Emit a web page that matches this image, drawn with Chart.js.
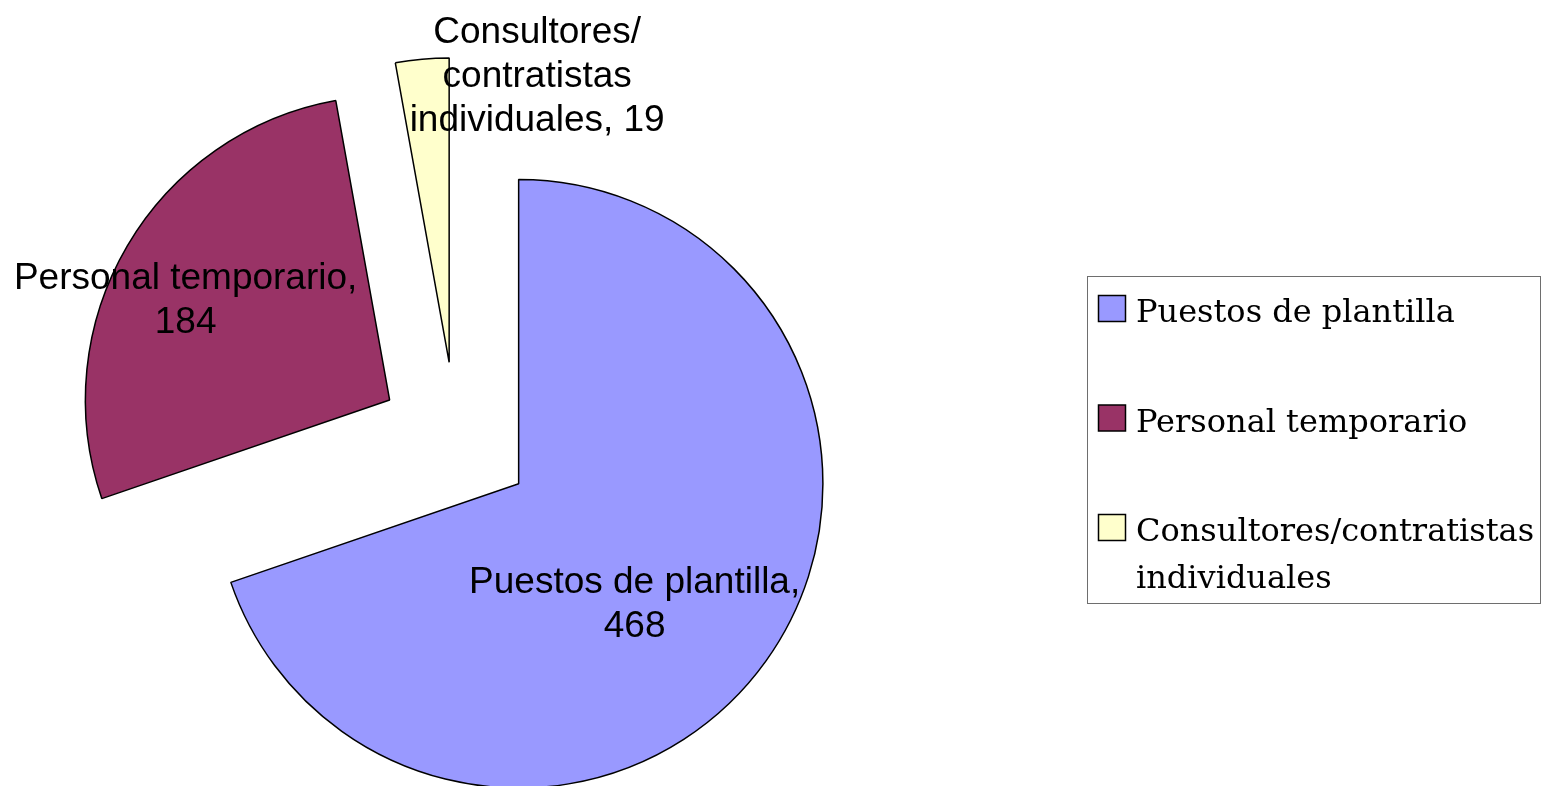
<!DOCTYPE html>
<html>
<head>
<meta charset="utf-8">
<script src="https://cdn.jsdelivr.net/npm/chart.js@4"></script>
<style>
  html, body { margin: 0; padding: 0; background: #fff; }
  #wrap { position: relative; width: 1542px; height: 786px; }
</style>
</head>
<body>
<div id="wrap"><canvas id="canvas1"></canvas></div>
<script>
const categories = ['Puestos de plantilla', 'Personal temporario', 'Consultores/contratistas individuales'];
const staffCounts = [468, 184, 19];
const sliceColors = ['#9999FF', '#993366', '#FFFFCC'];

// every slice is pulled out of the centre by this much (px)
const explode = 77;
// centre of each data label, relative to the tip of its slice
const labelShift = [[116, 128], [-204, -92], [88, -278]];

const labelFont = '37px "Liberation Sans", Arial, sans-serif';
const legendFont = '32px "DejaVu Serif", serif';

// greedy wrap, breaks after spaces (and after "/" when slash is true)
function wrapText(ctx, text, maxW, slash) {
  const tokens = text.match(slash ? /[^\s\/]+[\/\s]?/g : /\S+\s?/g);
  const lines = [];
  let line = '';
  tokens.forEach(t => {
    const test = line + t;
    if (line && ctx.measureText(test.trim()).width > maxW) {
      lines.push(line.trim());
      line = t;
    } else {
      line = test;
    }
  });
  if (line.trim()) lines.push(line.trim());
  return lines;
}

const explodePlugin = {
  id: 'explode',
  afterDatasetUpdate(chart, args) {
    args.meta.data.forEach(arc => {
      const mid = (arc.startAngle + arc.endAngle) / 2;
      arc.x += Math.cos(mid) * explode;
      arc.y += Math.sin(mid) * explode;
    });
  }
};

const labelPlugin = {
  id: 'sliceLabels',
  afterDatasetsDraw(chart) {
    const ctx = chart.ctx;
    const meta = chart.getDatasetMeta(0);
    ctx.save();
    ctx.font = labelFont;
    ctx.fillStyle = '#000';
    ctx.textAlign = 'center';
    ctx.textBaseline = 'alphabetic';
    const lh = 44;
    meta.data.forEach((arc, i) => {
      const text = chart.data.labels[i] + ', ' + chart.data.datasets[0].data[i];
      const lines = wrapText(ctx, text, 350, true);
      const cx = arc.x + labelShift[i][0];
      const cy = arc.y + labelShift[i][1];
      const y0 = cy - (lines.length - 1) * lh / 2 + 3;
      lines.forEach((l, k) => ctx.fillText(l, cx, y0 + k * lh));
    });
    ctx.restore();
  }
};

const legendPlugin = {
  id: 'boxLegend',
  afterDraw(chart) {
    const ctx = chart.ctx;
    const bx = 1087.5, by = 276.5, bw = 453, bh = 327;
    ctx.save();
    ctx.strokeStyle = '#6e6e6e';
    ctx.lineWidth = 1;
    ctx.strokeRect(bx, by, bw, bh);
    ctx.font = legendFont;
    ctx.textAlign = 'left';
    ctx.textBaseline = 'alphabetic';
    chart.data.labels.forEach((lab, i) => {
      const base = 322 + i * 109.5;
      ctx.fillStyle = sliceColors[i];
      ctx.fillRect(1098.5, base - 26.5, 27, 26);
      ctx.strokeStyle = '#000';
      ctx.lineWidth = 1.5;
      ctx.strokeRect(1098.5, base - 26.5, 27, 26);
      ctx.fillStyle = '#000';
      const lines = wrapText(ctx, lab, 404, false);
      lines.forEach((l, k) => ctx.fillText(l, 1136, base + k * 47));
    });
    ctx.restore();
  }
};

const canvas1 = document.getElementById('canvas1');
new Chart(canvas1, {
  type: 'pie',
  data: {
    labels: categories,
    datasets: [{
      data: staffCounts,
      backgroundColor: sliceColors,
      borderColor: '#000',
      borderWidth: 1.5,
      borderJoinStyle: 'bevel',
      hoverOffset: 0,
      clip: false,
    }]
  },
  options: {
    responsive: true,
    maintainAspectRatio: false,
    animation: false,
    layout: { padding: { left: 151, right: 781, top: 134, bottom: 42 } },
    plugins: {
      legend: { display: false },
      tooltip: { enabled: false },
    },
    events: [],
  },
  plugins: [explodePlugin, labelPlugin, legendPlugin]
});
</script>
</body>
</html>
